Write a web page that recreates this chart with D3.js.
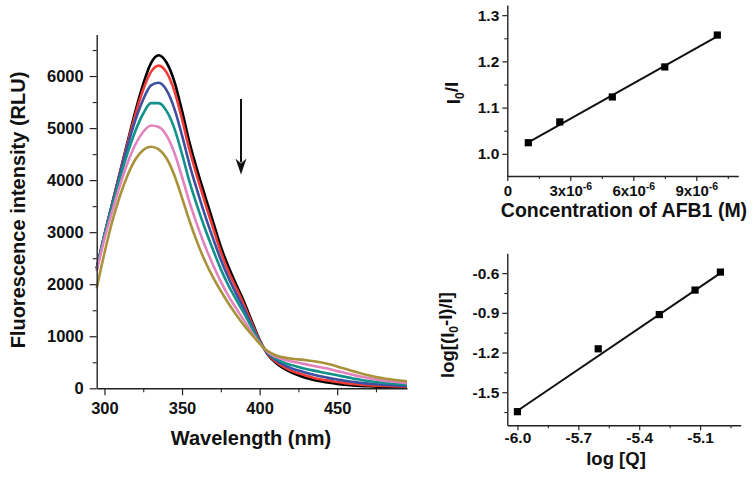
<!DOCTYPE html>
<html><head><meta charset="utf-8">
<script src="https://cdn.jsdelivr.net/npm/d3@7"></script>
<style>
body{margin:0;background:#fff}
text{font-family:"Liberation Sans",Arial,sans-serif;font-weight:bold;fill:#111}
</style>
</head><body>
<svg id="c" width="752" height="479"></svg>
<script>
// ---- Spectra data (wavelength, nm) ----
const wavelengths = [295,300,305,310,315,320,325,330,335,340,345,350,355,360,365,370,375,380,385,390,395,400,405,410,415,420,425,430,435,440,445,450,455,460,465,470,475,480,485,490,495];
const specBlack = [2300,2950,3550,4150,4750,5330,5850,6250,6400,6260,5900,5330,4700,4170,3680,3200,2720,2330,1990,1660,1290,930,660,500,390,310,250,200,160,130,105,85,70,55,45,38,32,27,22,18,15];
const specRed   = [2300,2950,3550,4140,4720,5270,5740,6080,6200,6070,5720,5170,4560,4040,3550,3080,2620,2240,1920,1600,1250,920,670,520,420,340,290,240,200,170,145,120,100,85,70,60,52,45,40,35,30];
const specBlue  = [2300,2950,3540,4120,4670,5160,5550,5820,5870,5730,5380,4860,4280,3780,3310,2880,2470,2120,1810,1520,1200,900,680,550,460,390,340,300,260,225,195,170,145,125,105,90,78,68,60,52,45];
const specTeal  = [2300,2940,3500,4040,4530,4950,5280,5480,5480,5330,5000,4500,3950,3480,3050,2660,2290,1970,1700,1440,1160,890,690,580,500,450,410,370,340,310,280,250,220,190,165,140,120,105,92,80,70];
const specPink  = [2250,2870,3400,3900,4340,4690,4930,5050,5020,4860,4530,4060,3560,3120,2720,2370,2050,1770,1530,1300,1070,870,700,610,560,520,490,460,430,400,370,330,295,260,225,195,170,148,130,115,100];
const specGold  = [1920,2600,3200,3700,4100,4400,4580,4640,4590,4420,4100,3660,3200,2790,2430,2130,1870,1630,1410,1210,1030,860,720,640,595,570,555,540,520,495,460,420,375,330,290,250,215,190,170,150,135];
const specColors = ["#000000","#f23b36","#3d4fa0","#11918a","#e283bf","#a8923a"];
const arrowWave = [388, 388];
const arrowVal  = [5560, 4110];
const specXTicks = [300,350,400,450];
const specXMinor = [325,375,425,475];
const specYTicks = [0,1000,2000,3000,4000,5000,6000];
const specYMinor = [500,1500,2500,3500,4500,5500,6500];

// ---- Stern-Volmer plot ----
const concAFB1 = [1e-6, 2.5e-6, 5e-6, 7.5e-6, 10e-6];
const i0OverI  = [1.024, 1.069, 1.123, 1.188, 1.257];
const svFitX   = [1e-6, 10e-6];
const svFitY   = [1.025, 1.254];
const svXTicks = [0, 3e-6, 6e-6, 9e-6];
const svXMinor = [1.5e-6, 4.5e-6, 7.5e-6, 10.5e-6];
const svYTicks = [1.0, 1.1, 1.2, 1.3];
const svYMinor = [1.05, 1.15, 1.25];

// ---- double log plot ----
const logQ     = [-6.0, -5.602, -5.301, -5.125, -5.0];
const logRatio = [-1.647, -1.172, -0.913, -0.728, -0.592];
const dlFitX   = [-6.0, -5.0];
const dlFitY   = [-1.64, -0.60];
const dlXTicks = [-6.0, -5.7, -5.4, -5.1];
const dlXMinor = [-5.85, -5.55, -5.25, -4.95];
const dlYTicks = [-1.5, -1.2, -0.9, -0.6];
const dlYMinor = [-1.65, -1.35, -1.05, -0.75];

const svg = d3.select("#c");
svg.append("rect").attr("width",752).attr("height",479).attr("fill","#fff");

function drawAxis(g, axis, fontSize){
  g.call(axis);
  g.selectAll("path.domain").attr("stroke","#222").attr("stroke-width",1.4);
  g.selectAll(".tick line").attr("stroke","#222").attr("stroke-width",1.2);
  g.selectAll(".tick text").attr("font-size",fontSize).attr("fill","#111")
    .attr("font-family","Liberation Sans, Arial, sans-serif").attr("font-weight","bold");
  return g;
}
function minorAxis(g, axis){
  g.call(axis);
  g.selectAll("path.domain").remove();
  g.selectAll(".tick line").attr("stroke","#222").attr("stroke-width",1.1);
  g.selectAll(".tick text").remove();
}
const fmt1 = d => d.toFixed(1);

// ===== Spectra =====
const x1 = d3.scaleLinear().domain([295,495]).range([96.7,407]);
const y1 = d3.scaleLinear().domain([0,6800]).range([388.3,34.4]);

const series = [specBlack,specRed,specBlue,specTeal,specPink,specGold];
const line1 = d3.line().x((d,i)=>x1(wavelengths[i])).y(d=>y1(d)).curve(d3.curveMonotoneX);
series.forEach((s,k)=>{
  svg.append("path").datum(s).attr("d",line1).attr("fill","none")
    .attr("stroke",specColors[k]).attr("stroke-width",2.6).attr("stroke-linejoin","round");
});

minorAxis(svg.append("g").attr("transform",`translate(0,${y1(0)})`),
  d3.axisBottom(x1).tickValues(specXMinor).tickSize(4).tickFormat(""));
minorAxis(svg.append("g").attr("transform",`translate(${x1(295)},0)`),
  d3.axisLeft(y1).tickValues(specYMinor).tickSize(4).tickFormat(""));
drawAxis(svg.append("g").attr("transform",`translate(0,${y1(0)})`),
  d3.axisBottom(x1).tickValues(specXTicks).tickSize(7).tickSizeOuter(0).tickPadding(7)
    .tickFormat(d => String(d)), "16.5px");
drawAxis(svg.append("g").attr("transform",`translate(${x1(295)},0)`),
  d3.axisLeft(y1).tickValues(specYTicks).tickSize(7).tickSizeOuter(0).tickPadding(6)
    .tickFormat(d => String(d)), "16.5px");

// arrow
svg.append("line").attr("x1",x1(arrowWave[0])).attr("x2",x1(arrowWave[1]))
  .attr("y1",y1(arrowVal[0])).attr("y2",y1(arrowVal[1])-12)
  .attr("stroke","#111").attr("stroke-width",2);
{
  const ax = x1(arrowWave[1]), ay = y1(arrowVal[1]);
  svg.append("path").attr("d",`M${ax-5.5},${ay-16} L${ax},${ay-11} L${ax+5.5},${ay-16} L${ax},${ay} Z`).attr("fill","#111");
}

svg.append("text").attr("x",251).attr("y",445).attr("text-anchor","middle")
  .attr("font-size","20px").text("Wavelength (nm)");
svg.append("text").attr("transform","translate(25,210) rotate(-90)").attr("text-anchor","middle")
  .attr("font-size","20px").text("Fluorescence intensity (RLU)");

// ===== Stern-Volmer =====
const x2 = d3.scaleLinear().domain([0,11e-6]).range([507.3,738.3]);
const y2 = d3.scaleLinear().domain([0.952,1.322]).range([176,5]);
minorAxis(svg.append("g").attr("transform",`translate(0,${y2(0.952)})`),
  d3.axisBottom(x2).tickValues(svXMinor).tickSize(3).tickFormat(""));
minorAxis(svg.append("g").attr("transform",`translate(${x2(0)},0)`),
  d3.axisLeft(y2).tickValues(svYMinor).tickSize(3).tickFormat(""));
const gx2 = drawAxis(svg.append("g").attr("transform",`translate(0,${y2(0.952)})`),
  d3.axisBottom(x2).tickValues(svXTicks).tickSize(5).tickSizeOuter(0).tickPadding(4), "15px");
gx2.selectAll(".tick text").each(function(d){
  const t = d3.select(this);
  if(d===0){ t.text("0"); return; }
  const m = Math.round(d/1e-6);
  t.text(null);
  t.append("tspan").text(m+"x10");
  t.append("tspan").attr("font-size","10.5px").attr("dy","-0.55em").text("-6");
});
drawAxis(svg.append("g").attr("transform",`translate(${x2(0)},0)`),
  d3.axisLeft(y2).tickValues(svYTicks).tickSize(5).tickSizeOuter(0).tickPadding(3)
    .tickFormat(fmt1), "15.5px");

svg.append("path").attr("d",d3.line()([[x2(svFitX[0]),y2(svFitY[0])],[x2(svFitX[1]),y2(svFitY[1])]]))
  .attr("stroke","#111").attr("stroke-width",2);
svg.selectAll(".sv").data(concAFB1).enter().append("rect")
  .attr("x",(d)=>x2(d)-3.6).attr("y",(d,i)=>y2(i0OverI[i])-3.6)
  .attr("width",7.2).attr("height",7.2).attr("fill","#000");

svg.append("text").attr("x",624).attr("y",216.5).attr("text-anchor","middle")
  .attr("font-size","19.5px").text("Concentration of AFB1 (M)");
{
  const t = svg.append("text").attr("transform","translate(460,93) rotate(-90)")
    .attr("text-anchor","middle").attr("font-size","19px");
  t.append("tspan").text("I");
  t.append("tspan").attr("font-size","12px").attr("dy","0.3em").text("0");
  t.append("tspan").attr("dy","-0.3em").text("/I");
}

// ===== double log =====
const x3 = d3.scaleLinear().domain([-6.05,-4.9]).range([507.3,740.7]);
const y3 = d3.scaleLinear().domain([-1.75,-0.45]).range([425.3,253.3]);
minorAxis(svg.append("g").attr("transform",`translate(0,${y3(-1.75)})`),
  d3.axisBottom(x3).tickValues(dlXMinor).tickSize(3).tickFormat(""));
minorAxis(svg.append("g").attr("transform",`translate(${x3(-6.05)},0)`),
  d3.axisLeft(y3).tickValues(dlYMinor).tickSize(3).tickFormat(""));
drawAxis(svg.append("g").attr("transform",`translate(0,${y3(-1.75)})`),
  d3.axisBottom(x3).tickValues(dlXTicks).tickSize(5).tickSizeOuter(0).tickPadding(2)
    .tickFormat(fmt1), "15.5px");
drawAxis(svg.append("g").attr("transform",`translate(${x3(-6.05)},0)`),
  d3.axisLeft(y3).tickValues(dlYTicks).tickSize(5).tickSizeOuter(0).tickPadding(3)
    .tickFormat(fmt1), "15.5px");

svg.append("path").attr("d",d3.line()([[x3(dlFitX[0]),y3(dlFitY[0])],[x3(dlFitX[1]),y3(dlFitY[1])]]))
  .attr("stroke","#111").attr("stroke-width",2);
svg.selectAll(".dl").data(logQ).enter().append("rect")
  .attr("x",(d)=>x3(d)-3.6).attr("y",(d,i)=>y3(logRatio[i])-3.6)
  .attr("width",7.2).attr("height",7.2).attr("fill","#000");

svg.append("text").attr("x",616).attr("y",464.5).attr("text-anchor","middle")
  .attr("font-size","18.5px").text("log [Q]");
{
  const t = svg.append("text").attr("transform","translate(454,335) rotate(-90)")
    .attr("text-anchor","middle").attr("font-size","18.5px");
  t.append("tspan").text("log[(I");
  t.append("tspan").attr("font-size","12px").attr("dy","0.3em").text("0");
  t.append("tspan").attr("dy","-0.3em").text("-I)/I]");
}
</script>
</body></html>
